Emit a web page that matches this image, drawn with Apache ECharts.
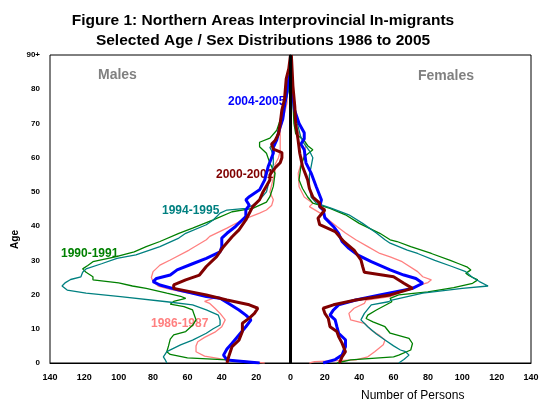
<!DOCTYPE html>
<html><head><meta charset="utf-8">
<script src="https://cdn.jsdelivr.net/npm/echarts@6/dist/echarts.min.js"></script>
<style>html,body{margin:0;padding:0;background:#fff}#c{width:544px;height:404px}</style>
</head><body><div id="c"></div>
<script>
// [age, persons]
var male1986 = [[0,15],[0.9,37],[2,50],[3.3,55],[5,55],[6.2,54],[7.5,50],[9,44],[10.6,40],[12.6,38],[14.5,41],[16,44],[17.4,47],[18,50],[18.9,45],[19.5,48],[20.5,60],[21.5,70],[22.5,77],[23.8,80],[25,81],[26.7,80],[28.6,76],[30.1,70],[33,59],[36,49],[37,47],[39.4,37],[41.8,28],[43.8,18],[44.7,14],[46,11],[47.7,10],[50,12],[52,11],[54,10],[56,9],[58,9],[60,7],[62,6],[64,6],[66,6],[68,6],[70,5],[72,4],[74,3],[76,2],[78,2],[80,1],[85,0.5],[90,0]];
var male1990 = [[0,18],[0.9,37],[1.5,60],[2.5,70],[3.3,72],[5,71],[7,70],[8.2,68],[9.2,61],[11,57],[12.6,55],[14,56],[15.5,57],[16.5,62],[17.2,70],[18,68],[18.9,61],[19.5,64],[20.4,72],[21.8,84],[22.5,92],[23.4,100],[24.3,115],[25.2,115],[26.5,119],[27.5,121],[28.5,118],[29.6,115],[31,102],[32.5,91],[34,84],[35.5,76],[37.9,65],[39.4,57],[41.8,45],[44.2,34],[45.2,22],[47,14],[48.6,12],[51.6,10],[55.4,9],[58.4,12],[61.3,14],[63.2,18],[64.5,18],[65.7,12],[68,8],[71,6],[74,4.5],[77.5,2.5],[81,1],[85,0.5],[90,0]];
var male1994 = [[0,72],[1,73],[1.8,74],[3.3,72],[5.3,64],[6.7,57],[8.7,49],[10,45],[11.1,41],[12.5,41],[14,42],[15.5,49],[17,57],[17.9,72],[19.4,99],[20.4,119],[21.3,130],[22.5,133],[23.5,131],[24.4,128],[25.2,122],[26.5,121],[27.5,119],[29,110],[30.6,101],[31.6,90],[34,76],[36.5,65],[37.9,61],[40.4,49],[41.8,45],[43.8,41],[44.7,37],[45.2,26],[46.1,22],[47.7,18],[50,14],[52,13],[54,12],[56,11],[58,10],[60,10],[62,11],[63,12],[64,10],[66,8],[68,7],[70,6],[72,5],[74,4],[76,3],[78,2],[80,1],[85,0.5],[90,0]];
var male2000 = [[0,37],[1.8,36],[4.8,34],[6.7,30],[9.2,28],[11.6,28],[13.1,24],[14.5,21],[16,19],[17,24],[18.4,37],[19.9,49],[21,60],[21.8,68],[22.8,68],[24.3,61],[25.7,53],[28.2,49],[31.1,43],[34,39],[36.9,34],[38.9,30],[41.8,26],[45.7,22],[47.7,18],[50,16],[53.5,12],[55,12],[57,9],[58.5,6],[60,5],[61.5,5],[62.5,10],[64,11],[65,9],[67,7],[70,6],[74,5],[77,3.5],[80,3],[83,2.5],[86,1],[90,0]];
var male2004 = [[0,18],[0.9,37],[2.3,39],[4.1,37],[5.8,34],[8.2,30],[10.6,26],[12.6,23],[14,26],[15.5,30],[17.4,36],[18.9,41],[19.4,49],[20.5,58],[21.3,65],[22.8,76],[23.8,80],[24.7,78],[25.7,70],[27.2,66],[29,57],[30.6,49],[32.5,41],[34,40],[36.5,40],[37.9,37],[39.9,32],[42.8,26],[44.7,26],[46.1,24],[47.7,26],[48.6,24],[50.6,18],[53.5,15],[57.4,13],[61.3,10],[63,10],[65.2,8],[68.4,6.4],[71.3,4.5],[75,3.5],[78,2.5],[80,2],[82,1.5],[85,0],[90,0]];

var female1986 = [[0,11],[0.4,14],[0.9,38],[1.8,45],[3.3,49],[5.3,54],[6.7,55],[8,52],[9.6,47],[11.6,43],[12.6,35],[14.5,34],[16,37],[17.4,43],[18.4,44],[19.4,58],[21,66],[22.5,73],[23.5,80],[24.3,82],[25.2,77],[26.7,74],[27.2,73],[29.6,65],[31,58],[32,52],[34,45],[36,38],[38,32],[39.9,27],[41.5,23],[43.3,19],[45.7,11],[46.7,13],[48.5,8],[51.5,5],[55.5,4.5],[58,6],[61,8],[64.2,9],[66,6],[68,4],[70,3],[75,2],[80,1],[85,0.5],[90,0]];
var female1990 = [[0,27],[0.9,35],[1.8,60],[2.3,63],[3.8,70],[5.7,71],[7.2,69],[8.7,58],[10.6,55],[12,48],[13,44],[14,45],[15.5,50],[17.9,59],[18.9,58],[19.9,63],[20.8,80],[22,95],[23.3,106],[24.3,109],[25.5,104],[26.2,102],[27.2,105],[28,103],[29,98],[30,93],[32,82],[34,70],[35.5,62],[36,58],[37.9,52],[40.8,40],[43.3,32],[45.2,23],[46.7,13],[48.5,10],[51,7],[53.5,5],[57.4,6],[60.3,8],[62.3,13],[63.5,10],[65,8],[67,3],[70,2],[75,1.5],[80,1],[85,0.5],[90,0]];
var female1994 = [[0,63],[1,66],[2.3,69],[3.3,67],[3.8,64],[5,60],[6.7,55],[8.5,50],[10.6,45],[12.6,41],[14.5,43],[17,47],[17.9,57],[18.4,59],[19.4,68],[20.4,77],[21.8,100],[22.5,115],[23.8,110],[25,106],[26.7,102],[28.2,94],[30,84],[32,74],[33,68],[35,58],[36,55],[38,50],[40.8,42],[43.3,34],[45.2,24],[46.7,15],[48.5,12],[51.5,11],[55,11],[57.4,12],[60,13],[62,11],[64,8],[66,6],[68,5],[70,4],[75,2],[80,1],[85,0.5],[90,0]];
var female2000 = [[0,28.5],[1.8,30],[3.3,32],[5.8,30],[7.7,28],[9.2,27],[10.6,23],[13,22],[14.5,20],[16,19],[17,25],[18.4,38],[19.9,58],[21.8,71],[23.3,66],[25.2,60],[26.5,43],[28.2,42],[30.1,41],[33,37],[35.5,31],[38.4,26],[40.4,17],[42.3,16],[44.7,20],[45.7,17],[46.7,17],[48.5,13],[51,11],[53.5,10],[57.4,7],[61.3,5.4],[65.2,4.4],[70,3],[75,2.5],[81,1.4],[85,1],[90,0.5]];
var female2004 = [[0,19],[1,26],[2.3,30],[4.8,32],[6.8,32],[8.7,28],[10.6,27],[12.6,26],[14,23],[15.5,25],[17,28],[18.4,38],[19.9,52],[21.8,71],[23.3,77],[24.7,73],[25.7,66],[27.2,58],[29.6,47],[31.6,39],[33.5,34],[35.5,30],[37.9,28],[39.9,25],[42.4,20],[44.7,19],[45.7,17],[47.7,18],[51.5,15],[55.5,12],[58.5,9],[62.3,8],[64,6],[65.5,8],[67.3,8],[70,5],[74,2.3],[78,1.5],[82,0.6],[85,0],[90,0]];

var xTicks = [-140,-120,-100,-80,-60,-40,-20,0,20,40,60,80,100,120,140];
var yTicks = [0,10,20,30,40,50,60,70,80,90];
var periods = ['1986-1987','1990-1991','1994-1995','2000-2001','2004-2005'];

var styles = {
  '1986-1987': {color:'#FF8080', width:1.3, z:2},
  '1990-1991': {color:'#008000', width:1.3, z:2},
  '1994-1995': {color:'#008080', width:1.3, z:2},
  '2004-2005': {color:'#0000FF', width:3, z:3},
  '2000-2001': {color:'#800000', width:3, z:4}
};
var males = {'1986-1987':male1986,'1990-1991':male1990,'1994-1995':male1994,'2000-2001':male2000,'2004-2005':male2004};
var females = {'1986-1987':female1986,'1990-1991':female1990,'1994-1995':female1994,'2000-2001':female2000,'2004-2005':female2004};

var series = [];
periods.forEach(function(p){
  var s = styles[p];
  series.push({type:'line', name:p, symbol:'none', z:s.z, lineStyle:{color:s.color,width:s.width}, itemStyle:{color:s.color},
    data: males[p].map(function(d){return [-d[1], d[0]];})});
  series.push({type:'line', name:p, symbol:'none', z:s.z, lineStyle:{color:s.color,width:s.width}, itemStyle:{color:s.color},
    data: females[p].map(function(d){return [d[1], d[0]];})});
});
series.push({type:'line', symbol:'none', z:6, lineStyle:{color:'#000',width:3}, data:[[0,0],[0,90]]});

var FONT = '"Liberation Sans", Arial, sans-serif';
var chart = echarts.init(document.getElementById('c'), null, {renderer:'canvas'});
chart.setOption({
  animation:false,
  backgroundColor:'#fff',
  title:{text:'Figure 1: Northern Areas Interprovincial In-migrants\nSelected Age / Sex Distributions 1986 to 2005',
    left:258, top:6, textAlign:'center',
    textStyle:{fontFamily:FONT, fontSize:15.5, fontWeight:'bold', color:'#000', lineHeight:20}},
  grid:{left:50, right:13, top:55, bottom:41, show:true, borderColor:'#000', borderWidth:1, backgroundColor:'transparent'},
  xAxis:{type:'value', min:-140, max:140, interval:20,
    axisLine:{show:true, lineStyle:{color:'#000'}}, axisTick:{show:false}, splitLine:{show:false},
    axisLabel:{fontFamily:FONT, fontSize:9, fontWeight:'bold', color:'#000', margin:10,
      formatter:function(v){return xTicks.indexOf(v)>=0 ? String(Math.abs(v)) : '';}}},
  yAxis:{type:'value', min:0, max:90, interval:10,
    axisLine:{show:true, lineStyle:{color:'#000'}}, axisTick:{show:false}, splitLine:{show:false},
    axisLabel:{fontFamily:FONT, fontSize:8, fontWeight:'bold', color:'#000', margin:10,
      formatter:function(v){return v===90 ? '90+' : String(v);}}},
  graphic:[
    {type:'text', left:10, top:230, rotation:Math.PI/2, style:{text:'Age', font:'bold 10px '+FONT, fill:'#000'}},
    {type:'text', left:361, top:390, style:{text:'Number of Persons', font:'12px '+FONT, fill:'#000'}},
    {type:'text', left:98, top:68, style:{text:'Males', font:'bold 14px '+FONT, fill:'#808080'}},
    {type:'text', left:418, top:69, style:{text:'Females', font:'bold 14px '+FONT, fill:'#808080'}},
    {type:'text', z:1, left:228, top:96, style:{text:periods[4], font:'bold 12px '+FONT, fill:'#0000FF'}},
    {type:'text', z:1, left:216, top:169, style:{text:periods[3], font:'bold 12px '+FONT, fill:'#800000'}},
    {type:'text', z:1, left:162, top:205, style:{text:periods[2], font:'bold 12px '+FONT, fill:'#008080'}},
    {type:'text', z:1, left:61, top:248, style:{text:periods[1], font:'bold 12px '+FONT, fill:'#008000'}},
    {type:'text', z:1, left:151, top:318, style:{text:periods[0], font:'bold 12px '+FONT, fill:'#FF8080'}}
  ],
  series:series
});
</script></body></html>
